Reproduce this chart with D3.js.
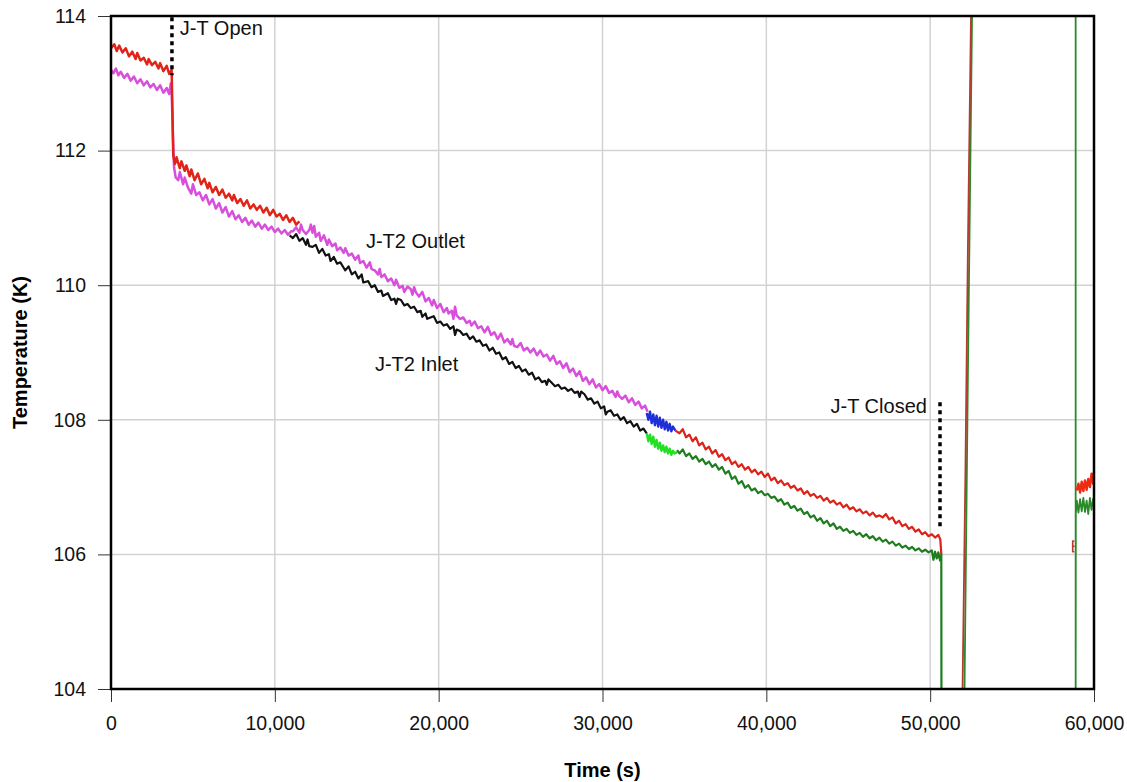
<!DOCTYPE html>
<html>
<head>
<meta charset="utf-8">
<script src="https://cdn.jsdelivr.net/npm/d3@7"></script>
<style>
  body { margin: 0; background: #fff; }
  text { font-family: "Liberation Sans", Arial, sans-serif; }
  .tick text { font-size: 19.5px; fill: #111; }
  .title { font-family: "Liberation Sans Narrow", "Arial Narrow", "Liberation Sans", sans-serif; font-weight: bold; font-size: 20px; }
</style>
</head>
<body>
<script>
'use strict';

// tick values
const xTicks = [0, 10000, 20000, 30000, 40000, 50000, 60000];
const yTicks = [104, 106, 108, 110, 112, 114];

// upper sensor before the J-T2 segment (red)
const redStart = [[0,113.52],[200,113.58],[350,113.48],[500,113.56],[700,113.46],[900,113.52],[1100,113.4],[1300,113.47],[1500,113.36],[1600,113.45],[1800,113.34],[2000,113.38],[2200,113.28],[2300,113.36],[2500,113.27],[2700,113.32],[2900,113.22],[3000,113.3],[3200,113.18],[3400,113.26],[3550,113.14],[3700,113.2],[3750,112.6],[3800,111.93],[3900,111.8],[4000,111.9],[4200,111.74],[4300,111.84],[4500,111.7],[4600,111.78],[4800,111.62],[4900,111.72],[5100,111.56],[5300,111.66],[5500,111.5],[5700,111.58],[5900,111.44],[6000,111.52],[6200,111.38],[6400,111.46],[6600,111.34],[6800,111.42],[7000,111.3],[7200,111.36],[7400,111.26],[7500,111.34],[7700,111.22],[7900,111.28],[8100,111.18],[8300,111.26],[8500,111.14],[8700,111.2],[8900,111.12],[9100,111.18],[9300,111.08],[9500,111.15],[9700,111.04],[9900,111.12],[10100,111.02],[10300,111.06],[10500,110.97],[10700,111.04],[10900,110.94],[11100,111.0],[11300,110.9],[11500,110.95]];

// J-T2 outlet (magenta)
const outlet = [[0,113.2],[150,113.15],[300,113.22],[450,113.12],[600,113.17],[800,113.08],[1000,113.14],[1200,113.04],[1400,113.1],[1600,113.0],[1800,113.06],[2000,112.97],[2200,113.03],[2400,112.94],[2600,112.99],[2800,112.9],[3000,112.97],[3200,112.86],[3400,112.93],[3550,112.84],[3650,113.0],[3700,112.9],[3780,112.2],[3850,111.75],[3950,111.6],[4100,111.56],[4200,111.68],[4400,111.5],[4500,111.6],[4700,111.45],[4900,111.36],[5000,111.5],[5200,111.34],[5400,111.38],[5600,111.26],[5800,111.34],[6000,111.2],[6200,111.28],[6400,111.14],[6600,111.22],[6800,111.08],[7000,111.16],[7200,111.02],[7400,111.1],[7600,110.98],[7800,111.04],[8000,110.94],[8200,111.0],[8400,110.9],[8600,110.96],[8800,110.87],[9000,110.93],[9200,110.84],[9400,110.9],[9600,110.82],[9800,110.87],[10000,110.79],[10200,110.84],[10400,110.77],[10600,110.82],[10800,110.75],[11000,110.8],[11100,110.8],[11300,110.86],[11500,110.78],[11600,110.9],[11700,110.82],[11900,110.76],[12100,110.82],[12200,110.9],[12300,110.78],[12400,110.88],[12500,110.72],[12700,110.78],[12800,110.66],[13000,110.74],[13200,110.6],[13300,110.68],[13500,110.58],[13700,110.62],[13800,110.52],[14000,110.56],[14200,110.48],[14300,110.55],[14500,110.44],[14700,110.47],[14900,110.38],[15100,110.44],[15200,110.33],[15400,110.36],[15600,110.26],[15800,110.34],[15900,110.24],[16100,110.22],[16300,110.16],[16400,110.24],[16500,110.12],[16700,110.16],[16900,110.06],[17100,110.1],[17300,110.0],[17400,110.08],[17600,109.96],[17800,109.99],[17900,109.9],[18100,109.98],[18300,109.94],[18400,109.86],[18500,109.97],[18600,109.9],[18800,109.83],[19000,109.9],[19200,109.76],[19400,109.81],[19600,109.7],[19700,109.78],[19900,109.66],[20100,109.72],[20300,109.6],[20500,109.66],[20600,109.58],[20800,109.62],[20900,109.5],[21000,109.68],[21100,109.55],[21300,109.5],[21500,109.52],[21700,109.44],[21900,109.47],[22000,109.4],[22200,109.46],[22400,109.36],[22600,109.39],[22800,109.3],[23000,109.38],[23200,109.26],[23400,109.3],[23600,109.2],[23800,109.28],[24000,109.15],[24200,109.2],[24400,109.12],[24500,109.2],[24600,109.1],[24800,109.08],[25000,109.14],[25200,109.03],[25400,109.07],[25600,109.0],[25800,109.06],[26000,108.96],[26200,109.03],[26400,108.94],[26600,108.97],[26800,108.88],[27000,108.95],[27200,108.83],[27400,108.87],[27600,108.77],[27800,108.84],[28000,108.71],[28200,108.76],[28400,108.65],[28600,108.72],[28800,108.58],[29000,108.63],[29200,108.53],[29400,108.6],[29600,108.48],[29800,108.53],[30000,108.44],[30200,108.5],[30400,108.4],[30600,108.43],[30800,108.34],[30900,108.42],[31000,108.36],[31200,108.31],[31400,108.36],[31600,108.26],[31800,108.32],[32000,108.22],[32200,108.27],[32400,108.17],[32600,108.21],[32750,108.12]];

// J-T2 inlet (black)
const inlet = [[10900,110.74],[11100,110.7],[11300,110.76],[11500,110.66],[11700,110.7],[11900,110.6],[12000,110.68],[12100,110.58],[12300,110.57],[12500,110.6],[12700,110.48],[12900,110.54],[13100,110.44],[13300,110.46],[13400,110.36],[13600,110.42],[13800,110.32],[14000,110.34],[14200,110.26],[14300,110.22],[14500,110.28],[14700,110.16],[14900,110.2],[15100,110.1],[15300,110.16],[15400,110.04],[15700,110.06],[15900,109.97],[16100,110.0],[16300,109.9],[16500,109.92],[16600,109.84],[16900,109.88],[17100,109.78],[17300,109.8],[17400,109.72],[17500,109.8],[17700,109.78],[17900,109.7],[18100,109.72],[18300,109.66],[18500,109.68],[18700,109.6],[18900,109.62],[19000,109.53],[19200,109.58],[19300,109.5],[19500,109.52],[19700,109.54],[19900,109.44],[20100,109.46],[20300,109.4],[20500,109.42],[20700,109.35],[20900,109.39],[21000,109.26],[21100,109.34],[21300,109.32],[21500,109.26],[21700,109.28],[21900,109.2],[22100,109.24],[22300,109.16],[22500,109.18],[22700,109.1],[22900,109.12],[23100,109.03],[23300,109.07],[23500,108.98],[23700,109.0],[23900,108.9],[24100,108.93],[24300,108.83],[24500,108.86],[24700,108.77],[24900,108.8],[25100,108.72],[25300,108.75],[25500,108.67],[25700,108.7],[25900,108.6],[26100,108.63],[26300,108.56],[26500,108.58],[26600,108.52],[26700,108.6],[26900,108.55],[27100,108.5],[27300,108.52],[27500,108.46],[27700,108.48],[27900,108.43],[28100,108.46],[28300,108.4],[28500,108.42],[28600,108.34],[28700,108.42],[28900,108.38],[29100,108.3],[29300,108.32],[29500,108.24],[29700,108.27],[29900,108.17],[30100,108.2],[30200,108.08],[30300,108.12],[30500,108.14],[30700,108.06],[30900,108.08],[31100,108.0],[31300,108.04],[31500,107.95],[31700,107.98],[31900,107.9],[32100,107.94],[32300,107.84],[32500,107.87],[32700,107.8]];

// short blue / light green stretch
const blueSeg = [[32700,108.1],[32800,108.0],[32900,108.12],[33000,107.95],[33100,108.08],[33200,107.92],[33300,108.06],[33400,107.9],[33500,108.03],[33600,107.88],[33700,108.0],[33800,107.86],[33900,107.97],[34000,107.84],[34100,107.94],[34200,107.83],[34300,107.9],[34450,107.84]];
const limeSeg = [[32700,107.8],[32800,107.68],[32900,107.78],[33000,107.64],[33100,107.75],[33200,107.6],[33300,107.7],[33400,107.57],[33500,107.66],[33600,107.54],[33700,107.62],[33800,107.52],[33900,107.6],[34000,107.5],[34100,107.57],[34200,107.48],[34300,107.54],[34400,107.5],[34550,107.52]];

// last part before J-T closed (red upper, green lower)
const redEnd = [[34450,107.84],[34700,107.8],[34900,107.86],[35100,107.74],[35300,107.78],[35500,107.68],[35700,107.74],[35900,107.62],[36100,107.66],[36300,107.56],[36500,107.6],[36700,107.5],[36900,107.55],[37100,107.45],[37300,107.49],[37500,107.4],[37700,107.44],[37900,107.34],[38100,107.38],[38300,107.3],[38500,107.34],[38700,107.26],[38900,107.3],[39100,107.22],[39300,107.26],[39500,107.19],[39700,107.23],[39900,107.15],[40100,107.2],[40300,107.1],[40500,107.14],[40700,107.06],[40900,107.1],[41100,107.03],[41300,107.06],[41500,106.99],[41700,107.02],[41900,106.95],[42100,106.98],[42300,106.9],[42500,106.94],[42700,106.87],[42900,106.9],[43100,106.84],[43300,106.87],[43500,106.8],[43700,106.84],[43900,106.77],[44100,106.8],[44300,106.74],[44500,106.77],[44700,106.7],[44900,106.74],[45100,106.67],[45300,106.7],[45500,106.64],[45700,106.67],[45900,106.61],[46100,106.64],[46300,106.58],[46500,106.62],[46700,106.56],[46900,106.58],[47100,106.55],[47300,106.6],[47500,106.52],[47700,106.55],[47900,106.46],[48100,106.5],[48300,106.42],[48500,106.45],[48700,106.38],[48900,106.41],[49100,106.34],[49300,106.37],[49500,106.3],[49700,106.33],[49900,106.27],[50100,106.3],[50300,106.25],[50500,106.29],[50620,106.22],[50680,106.0]];
const greenEnd = [[34550,107.55],[34700,107.5],[34900,107.56],[35100,107.46],[35300,107.5],[35500,107.42],[35700,107.46],[35900,107.38],[36100,107.42],[36300,107.34],[36500,107.38],[36700,107.3],[36900,107.34],[37100,107.26],[37300,107.3],[37500,107.2],[37700,107.24],[37900,107.12],[38100,107.16],[38300,107.05],[38500,107.09],[38700,106.99],[38900,107.03],[39100,106.95],[39300,106.98],[39500,106.91],[39700,106.94],[39900,106.88],[40100,106.9],[40300,106.84],[40500,106.86],[40700,106.79],[40900,106.82],[41100,106.74],[41300,106.77],[41500,106.69],[41700,106.72],[41900,106.65],[42100,106.68],[42300,106.6],[42500,106.63],[42700,106.55],[42900,106.58],[43100,106.5],[43300,106.54],[43500,106.46],[43700,106.5],[43900,106.42],[44100,106.46],[44300,106.38],[44500,106.41],[44700,106.35],[44900,106.38],[45100,106.32],[45300,106.35],[45500,106.29],[45700,106.32],[45900,106.26],[46100,106.3],[46300,106.24],[46500,106.27],[46700,106.21],[46900,106.25],[47100,106.19],[47300,106.22],[47500,106.16],[47700,106.19],[47900,106.13],[48100,106.16],[48300,106.1],[48500,106.13],[48700,106.08],[48900,106.11],[49100,106.06],[49300,106.09],[49500,106.04],[49700,106.07],[49900,106.03],[50100,106.06],[50200,105.92],[50300,106.04],[50400,105.94],[50500,106.03],[50600,105.91],[50680,106.0],[50690,103.5]];

// after J-T closed: warm-up and restart
const redRise = [[51950,103.5],[52150,107.2],[52300,110.5],[52520,114.5]];
const greenRise = [[52075,103.5],[52300,108.6],[52580,114.5],[58880,114.5],[58880,103.5],[58890,106.6],[58950,106.8],[59050,106.62],[59150,106.82],[59250,106.64],[59350,106.84],[59450,106.63],[59550,106.8],[59650,106.6],[59750,106.84],[59850,106.66],[59950,106.83],[60000,106.7]];
const redGlitch = [[58800,106.2],[58700,106.2],[58700,106.12],[58780,106.12],[58700,106.12],[58700,106.04],[58800,106.04]];
const redRestart = [[58950,106.95],[59050,107.05],[59150,106.92],[59250,107.08],[59350,106.94],[59450,107.1],[59550,106.96],[59650,107.12],[59750,107.0],[59850,107.2],[59950,107.05],[60000,107.22]];

// valve events (dotted markers)
const markerTimes = [3720, 50600];
const markerTop = [113.98, 108.26];
const markerBottom = [113.12, 106.4];

// text labels
const noteText = ["J-T Open", "J-T2 Outlet", "J-T2 Inlet", "J-T Closed"];
const noteTime = [4200, 15560, 16110, 49800];
const noteTemp = [113.72, 110.55, 108.73, 108.1];
const noteAnchor = ["start", "start", "start", "end"];

const m = { width: 1127, height: 782, left: 111, right: 33, top: 16, bottom: 93 };
const plotW = m.width - m.left - m.right;
const plotH = m.height - m.top - m.bottom;

const svg = d3.select('body')
  .append('svg')
  .attr('width', m.width)
  .attr('height', m.height);

const xScale = d3.scaleLinear().domain([0, 60000]).range([m.left, m.left + plotW]);
const yScale = d3.scaleLinear().domain([104, 114]).range([m.top + plotH, m.top]);

// grid
svg.append('g')
  .selectAll('line.vg')
  .data(xTicks)
  .enter()
  .append('line')
  .attr('x1', d => xScale(d)).attr('x2', d => xScale(d))
  .attr('y1', m.top).attr('y2', m.top + plotH)
  .attr('stroke', '#d2d2d2').attr('stroke-width', 1.5);

svg.append('g')
  .selectAll('line.hg')
  .data(yTicks)
  .enter()
  .append('line')
  .attr('x1', m.left).attr('x2', m.left + plotW)
  .attr('y1', d => yScale(d)).attr('y2', d => yScale(d))
  .attr('stroke', '#d2d2d2').attr('stroke-width', 1.5);

// axes
const xAxis = d3.axisBottom(xScale).tickValues(xTicks).tickSize(13).tickPadding(14)
  .tickFormat(d3.format(','));
svg.append('g')
  .attr('transform', 'translate(0,' + (m.top + plotH) + ')')
  .call(xAxis)
  .call(g => g.select('.domain').remove())
  .call(g => g.selectAll('.tick line').attr('stroke', '#333'));

const yAxis = d3.axisLeft(yScale).tickValues(yTicks).tickSize(13).tickPadding(12);
svg.append('g')
  .attr('transform', 'translate(' + m.left + ',0)')
  .call(yAxis)
  .call(g => g.select('.domain').remove())
  .call(g => g.selectAll('.tick line').attr('stroke', '#333'));

// clip for data
svg.append('clipPath').attr('id', 'plotClip')
  .append('rect')
  .attr('x', m.left).attr('y', m.top)
  .attr('width', plotW).attr('height', plotH);

const line = d3.line()
  .x(d => xScale(d[0]))
  .y(d => yScale(d[1]));

const plotG = svg.append('g').attr('clip-path', 'url(#plotClip)');

const seriesList = [
  { data: outlet, color: '#d84fdc', width: 2.5 },
  { data: redStart, color: '#e02418', width: 2.5 },
  { data: inlet, color: '#111111', width: 2.2 },
  { data: blueSeg, color: '#1f2fd8', width: 2.4 },
  { data: limeSeg, color: '#22e022', width: 2.4 },
  { data: redEnd, color: '#dc2318', width: 2.2 },
  { data: greenEnd, color: '#1e7d1e', width: 2.2 },
  { data: greenRise, color: '#2a8a2a', width: 1.8 },
  { data: redRise, color: '#b83a2e', width: 1.8 },
  { data: redGlitch, color: '#b83a2e', width: 1.6 },
  { data: redRestart, color: '#ee2a10', width: 2.4 }
];

seriesList.forEach(s => {
  plotG.append('path')
    .datum(s.data)
    .attr('d', line)
    .attr('fill', 'none')
    .attr('stroke', s.color)
    .attr('stroke-width', s.width)
    .attr('stroke-linejoin', 'round');
});

// dotted valve markers
markerTimes.forEach((t, i) => {
  svg.append('line')
    .attr('x1', xScale(t)).attr('x2', xScale(t))
    .attr('y1', yScale(markerTop[i])).attr('y2', yScale(markerBottom[i]))
    .attr('stroke', '#000').attr('stroke-width', 3.5)
    .attr('stroke-dasharray', '4,4');
});

// frame
svg.append('rect')
  .attr('x', m.left).attr('y', m.top)
  .attr('width', plotW).attr('height', plotH)
  .attr('fill', 'none').attr('stroke', '#000').attr('stroke-width', 2.5);

// annotations
noteText.forEach((txt, i) => {
  svg.append('text')
    .attr('x', xScale(noteTime[i]))
    .attr('y', yScale(noteTemp[i]))
    .attr('text-anchor', noteAnchor[i])
    .style('font-size', '20px')
    .attr('fill', '#111')
    .text(txt);
});

// axis titles
svg.append('text')
  .attr('class', 'title')
  .attr('x', m.left + plotW / 2)
  .attr('y', 777)
  .attr('text-anchor', 'middle')
  .text('Time (s)');

svg.append('text')
  .attr('class', 'title')
  .attr('transform', 'translate(27,' + (m.top + plotH / 2) + ')rotate(-90)')
  .attr('text-anchor', 'middle')
  .text('Temperature (K)');
</script>
</body>
</html>
